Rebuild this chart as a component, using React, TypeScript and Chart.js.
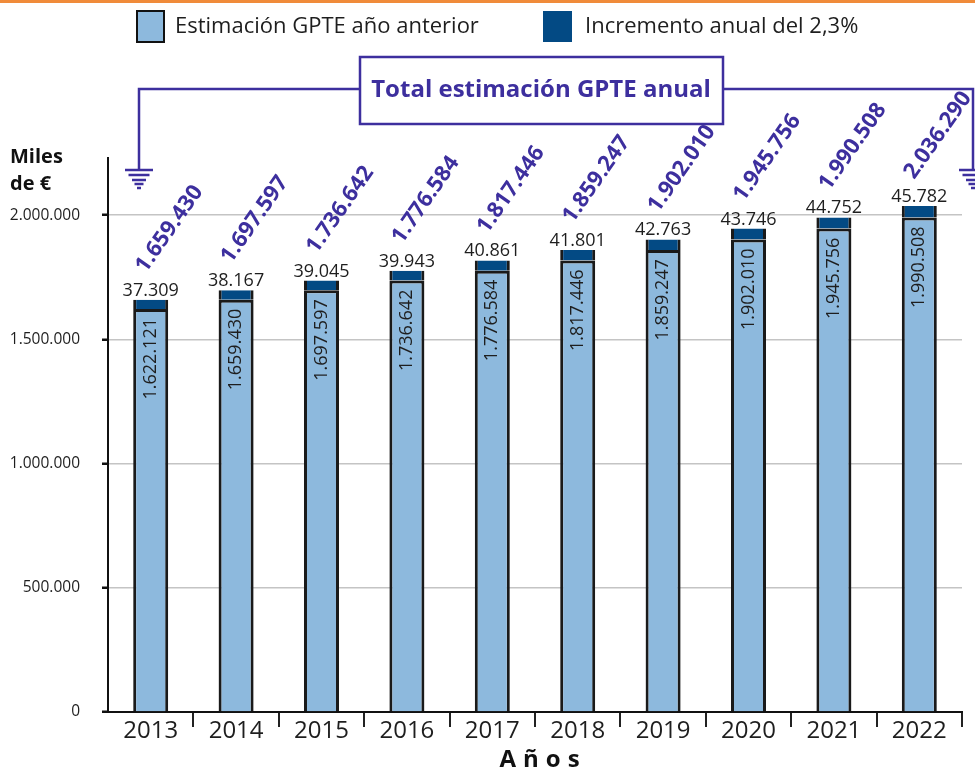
import React, { useEffect, useRef } from 'react';
import { Chart, registerables } from 'chart.js';

Chart.register(...registerables);

const years = ['2013', '2014', '2015', '2016', '2017', '2018', '2019', '2020', '2021', '2022'];
const previousEstimate = [1622121, 1659430, 1697597, 1736642, 1776584, 1817446, 1859247, 1902010, 1945756, 1990508];
const annualIncrement = [37309, 38167, 39045, 39943, 40861, 41801, 42763, 43746, 44752, 45782];
const annualTotal = [1659430, 1697597, 1736642, 1776584, 1817446, 1859247, 1902010, 1945756, 1990508, 2036290];
const yTicks = [0, 500000, 1000000, 1500000, 2000000];
const legendLabels = ['Estimación GPTE año anterior', 'Incremento anual del 2,3%'];
const totalTitle = 'Total estimación GPTE anual';
const yUnit = ['Miles', 'de €'];
const xTitle = 'Años';

const FONT = '"Open Sans", "Noto Sans", sans-serif';
const LIGHT = '#8DB9DD';
const DARK = '#034A84';
const PURPLE = '#3D2F9E';
const INK = '#1E1E1E';

const fmt = (n: number) => String(Math.round(n)).replace(/\B(?=(\d{3})+(?!\d))/g, '.');

const decor = {
  id: 'decor',
  beforeDraw(chart: any) {
    const ctx = chart.ctx;
    ctx.save();
    ctx.fillStyle = '#ffffff';
    ctx.fillRect(0, 0, chart.width, chart.height);
    ctx.fillStyle = '#F08B3A';
    ctx.fillRect(0, 0, chart.width, 3);
    ctx.restore();
  },
  afterDatasetsDraw(chart: any) {
    const ctx = chart.ctx;
    const lightMeta = chart.getDatasetMeta(0);
    const darkMeta = chart.getDatasetMeta(1);
    ctx.save();
    years.forEach((_, i) => {
      const l = lightMeta.data[i];
      const d = darkMeta.data[i];
      // inner rotated value
      ctx.save();
      ctx.translate(l.x, l.y + 9);
      ctx.rotate(-Math.PI / 2);
      ctx.font = `18px ${FONT}`;
      ctx.fillStyle = INK;
      ctx.textAlign = 'right';
      ctx.textBaseline = 'middle';
      ctx.fillText(fmt(previousEstimate[i]), 0, 0);
      ctx.restore();
      // increment label
      ctx.font = `18px ${FONT}`;
      ctx.fillStyle = INK;
      ctx.textAlign = 'center';
      ctx.textBaseline = 'alphabetic';
      ctx.fillText(fmt(annualIncrement[i]), d.x, d.y - 4);
      // total rotated
      ctx.save();
      ctx.translate(d.x - 5, d.y - 26);
      ctx.rotate((-55 * Math.PI) / 180);
      ctx.font = `bold 22px ${FONT}`;
      ctx.fillStyle = PURPLE;
      ctx.textAlign = 'left';
      ctx.textBaseline = 'alphabetic';
      ctx.fillText(fmt(annualTotal[i]), 0, 0);
      ctx.restore();
    });
    ctx.restore();
  },
  afterDraw(chart: any) {
    const ctx = chart.ctx;
    ctx.save();
    // legend
    ctx.fillStyle = LIGHT;
    ctx.fillRect(137, 11, 27, 31);
    ctx.strokeStyle = '#111';
    ctx.lineWidth = 2;
    ctx.strokeRect(137, 11, 27, 31);
    ctx.fillStyle = DARK;
    ctx.fillRect(543, 11, 29, 31);
    ctx.font = `22px ${FONT}`;
    ctx.fillStyle = INK;
    ctx.textAlign = 'left';
    ctx.textBaseline = 'middle';
    ctx.fillText(legendLabels[0], 175, 27);
    ctx.fillText(legendLabels[1], 585, 27);

    // title box and bracket
    ctx.strokeStyle = PURPLE;
    ctx.lineWidth = 2.5;
    ctx.strokeRect(360, 57, 363, 67);
    ctx.font = `bold 24px ${FONT}`;
    ctx.fillStyle = PURPLE;
    ctx.textAlign = 'center';
    ctx.textBaseline = 'middle';
    ctx.fillText(totalTitle, 541, 90);
    ctx.beginPath();
    ctx.moveTo(360, 89);
    ctx.lineTo(139, 89);
    ctx.lineTo(139, 170);
    ctx.moveTo(723, 89);
    ctx.lineTo(973, 89);
    ctx.lineTo(973, 170);
    ctx.stroke();
    const widths = [28, 21, 14, 9, 4];
    const ys = [170, 175, 180, 184, 188];
    [139, 973].forEach((cx) => {
      widths.forEach((w, k) => {
        ctx.beginPath();
        ctx.moveTo(cx - w / 2, ys[k]);
        ctx.lineTo(cx + w / 2, ys[k]);
        ctx.stroke();
      });
    });

    // y unit
    ctx.font = `bold 20px ${FONT}`;
    ctx.fillStyle = '#111';
    ctx.textAlign = 'left';
    ctx.textBaseline = 'alphabetic';
    ctx.fillText(yUnit[0], 10, 163);
    ctx.fillText(yUnit[1], 10, 190);

    // x title
    ctx.font = `bold 24px ${FONT}`;
    (ctx as any).letterSpacing = '7px';
    ctx.textAlign = 'center';
    ctx.fillText(xTitle, 543, 767);
    ctx.restore();
  },
};

export default function App() {
  const ref = useRef<HTMLCanvasElement | null>(null);
  useEffect(() => {
    document.body.style.margin = '0';
    const canvas = ref.current;
    if (!canvas) return;
    const chart = new Chart(canvas, {
      type: 'bar',
      data: {
        labels: years,
        datasets: [
          {
            label: legendLabels[0],
            data: previousEstimate,
            backgroundColor: LIGHT,
            borderColor: '#1a1a1a',
            borderWidth: 3,
            borderSkipped: 'start',
            categoryPercentage: 1,
            barPercentage: 0.41,
          },
          {
            label: legendLabels[1],
            data: annualIncrement,
            backgroundColor: DARK,
            borderColor: '#1a1a1a',
            borderWidth: { left: 3, right: 3, top: 0, bottom: 0 },
            borderSkipped: 'start',
            categoryPercentage: 1,
            barPercentage: 0.41,
          },
        ],
      },
      options: {
        responsive: false,
        animation: false,
        layout: { padding: { top: 158, left: 0, right: 13, bottom: 0 } },
        plugins: {
          legend: { display: false },
          tooltip: { enabled: false },
          title: { display: false },
        },
        scales: {
          x: {
            stacked: true,
            afterFit: (s: any) => {
              s.height = 59;
            },
            grid: {
              display: true,
              drawOnChartArea: false,
              drawTicks: true,
              tickLength: 15,
              lineWidth: 2,
              color: (c: any) => (c.index === 0 || c.index === years.length ? 'rgba(0,0,0,0)' : '#222'),
            },
            border: { display: true, color: '#111', width: 2 },
            ticks: {
              font: { family: FONT, size: 24 },
              color: INK,
              padding: -10,
              maxRotation: 0,
            },
          },
          y: {
            stacked: true,
            min: 0,
            max: 2230000,
            afterFit: (s: any) => {
              s.width = 108;
            },
            afterBuildTicks: (s: any) => {
              s.ticks = yTicks.map((v) => ({ value: v }));
            },
            grid: {
              color: '#C4C4C4',
              lineWidth: 1.5,
              tickColor: '#111',
              tickLength: 6,
              tickWidth: 2.5,
            },
            border: { display: true, color: '#111', width: 2 },
            ticks: {
              font: { family: FONT, size: 15.5 },
              color: INK,
              padding: 22,
              callback: (v: any) => fmt(Number(v)),
            },
          },
        },
      },
      plugins: [decor],
    } as any);
    return () => chart.destroy();
  }, []);
  return (
    <div style={{ width: 975, height: 771 }}>
      <canvas ref={ref} width={975} height={771} style={{ display: 'block' }} />
    </div>
  );
}
